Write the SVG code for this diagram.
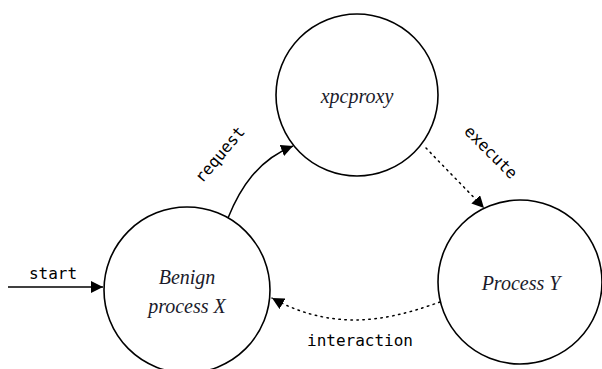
<svg xmlns="http://www.w3.org/2000/svg" width="602" height="369" viewBox="0 0 602 369">
<style>
.node{fill:#fff;stroke:#000;stroke-width:1.6}
.nt{font-family:"Liberation Serif",serif;font-style:italic;font-size:20px;fill:#1a1a2a;text-anchor:middle}
.edge{fill:none;stroke:#000;stroke-width:1.5}
.dot{stroke-dasharray:1.5 4.5;stroke-linecap:round}
.lbl{font-family:"DejaVu Sans Mono",monospace;font-size:16px;fill:#000;text-anchor:middle}
</style>
<defs>
<marker id="ah" viewBox="0 0 10 10" refX="10" refY="5" markerWidth="12" markerHeight="12" markerUnits="userSpaceOnUse" orient="auto">
<path d="M0,0 L10,5 L0,10 z" fill="#000"/>
</marker>
</defs>
<g id="xpcproxy"><circle class="node" cx="357" cy="95" r="81"/><text class="nt" x="357" y="103">xpcproxy</text></g>
<g id="benign"><circle class="node" cx="187" cy="290" r="83"/><text class="nt" x="187" y="284">Benign</text><text class="nt" x="187" y="313">process X</text></g>
<g id="processY"><circle class="node" cx="520" cy="282" r="82"/><text class="nt" x="521" y="290">Process Y</text></g>
<g id="connectors">
<path class="edge" d="M8,287 L103,287" marker-end="url(#ah)"/>
<text class="lbl" x="53" y="279">start</text>
<path class="edge" d="M228,218 C240,188 258,160 293,146" marker-end="url(#ah)"/>
<text class="lbl" transform="translate(224,158) rotate(-50)">request</text>
<path class="edge dot" d="M426,148 C445,168 465,188 484,208" marker-end="url(#ah)"/>
<text class="lbl" transform="translate(487,156) rotate(45)">execute</text>
<path class="edge dot" d="M440,302 C400,316 340,336 272,298" marker-end="url(#ah)"/>
<text class="lbl" x="360" y="346">interaction</text>
</g>
</svg>
